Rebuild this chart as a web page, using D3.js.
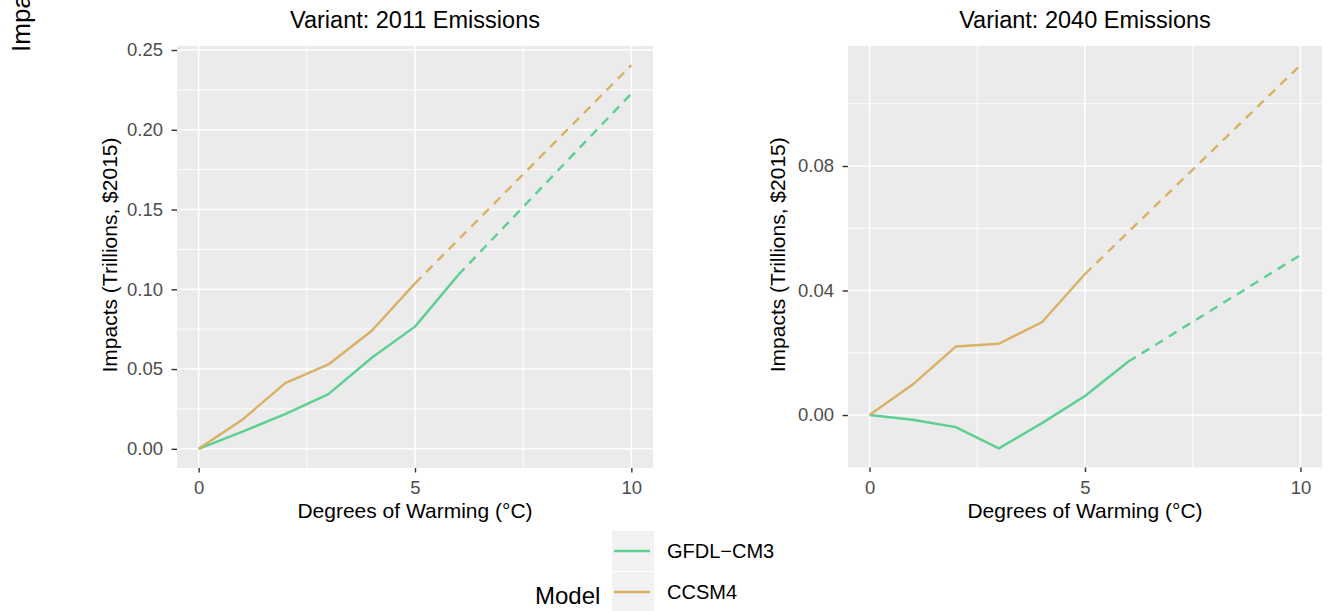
<!DOCTYPE html>
<html>
<head>
<meta charset="utf-8">
<script src="https://cdn.jsdelivr.net/npm/d3@7"></script>
<style>
  body { margin: 0; background: #fff; }
  text { font-family: "Liberation Sans", Arial, sans-serif; }
</style>
</head>
<body>
<div id="chart"></div>
<script>
// ---- data ----
const models = ["GFDL-CM3", "CCSM4"];
const modelLabels = ["GFDL\u2212CM3", "CCSM4"];
const variants = ["Variant: 2011 Emissions", "Variant: 2040 Emissions"];

const gfdlObsX = [0, 1, 2, 3, 4, 5, 6];
const ccsmObsX = [0, 1, 2, 3, 4, 5];
const gfdlProjX = [6, 10];
const ccsmProjX = [5, 10];

// 2011 emissions
const gfdl2011 = [0, 0.0106, 0.0218, 0.0343, 0.0571, 0.0766, 0.109];
const ccsm2011 = [0, 0.018, 0.0412, 0.0529, 0.074, 0.1037];
const gfdl2011Proj = [0.109, 0.2227];
const ccsm2011Proj = [0.1037, 0.2405];

// 2040 emissions
const gfdl2040 = [0, -0.0015, -0.0039, -0.0107, -0.0026, 0.0061, 0.0171];
const ccsm2040 = [0, 0.0098, 0.022, 0.0229, 0.0298, 0.0453];
const gfdl2040Proj = [0.0171, 0.0514];
const ccsm2040Proj = [0.0453, 0.1124];

const xTicks = [0, 5, 10];
const yTicks2011 = [0, 0.05, 0.10, 0.15, 0.20, 0.25];
const yTicks2040 = [0, 0.04, 0.08];

const colors = { "GFDL-CM3": "#5ccf92", "CCSM4": "#d8b163" };

// ---- layout ----
const W = 1327, H = 611;
const svg = d3.select("#chart").append("svg")
  .attr("width", W).attr("height", H);

const zip = (xs, ys) => xs.map((x, i) => [x, ys[i]]);

const panels = [
  { title: variants[0], left: 177, right: 653, top: 46, bottom: 468, yTicks: yTicks2011, yTitleX: 117,
    series: [
      { model: "GFDL-CM3", obs: zip(gfdlObsX, gfdl2011), proj: zip(gfdlProjX, gfdl2011Proj) },
      { model: "CCSM4", obs: zip(ccsmObsX, ccsm2011), proj: zip(ccsmProjX, ccsm2011Proj) }
    ] },
  { title: variants[1], left: 848, right: 1322, top: 46, bottom: 467.5, yTicks: yTicks2040, yTitleX: 785,
    series: [
      { model: "GFDL-CM3", obs: zip(gfdlObsX, gfdl2040), proj: zip(gfdlProjX, gfdl2040Proj) },
      { model: "CCSM4", obs: zip(ccsmObsX, ccsm2040), proj: zip(ccsmProjX, ccsm2040Proj) }
    ] }
];

// midpoints between majors, one step past each end (ggplot style minor breaks)
function minorBreaks(ticks) {
  const step = ticks[1] - ticks[0];
  const out = [];
  for (let i = -1; i < ticks.length; i++) out.push(ticks[0] + (i + 0.5) * step);
  return out;
}

panels.forEach(function(p) {
  // domain from data with 5% expansion
  const allPts = p.series.flatMap(s => s.obs.concat(s.proj));
  const xExt = d3.extent(allPts, d => d[0]);
  const yExt = d3.extent(allPts, d => d[1]);
  const xPad = (xExt[1] - xExt[0]) * 0.05, yPad = (yExt[1] - yExt[0]) * 0.05;

  const x = d3.scaleLinear().domain([xExt[0] - xPad, xExt[1] + xPad]).range([p.left, p.right]);
  const y = d3.scaleLinear().domain([yExt[0] - yPad, yExt[1] + yPad]).range([p.bottom, p.top]);

  const g = svg.append("g");

  // panel background
  g.append("rect")
    .attr("x", p.left).attr("y", p.top)
    .attr("width", p.right - p.left).attr("height", p.bottom - p.top)
    .attr("fill", "#ebebeb");

  // minor grid
  const yDom = y.domain(), xDom = x.domain();
  g.selectAll(".ymin").data(minorBreaks(p.yTicks).filter(v => v > yDom[0] && v < yDom[1]))
    .enter().append("line")
    .attr("x1", p.left).attr("x2", p.right)
    .attr("y1", d => y(d)).attr("y2", d => y(d))
    .attr("stroke", "#fff").attr("stroke-width", 0.9);
  g.selectAll(".xmin").data(minorBreaks(xTicks).filter(v => v > xDom[0] && v < xDom[1]))
    .enter().append("line")
    .attr("y1", p.top).attr("y2", p.bottom)
    .attr("x1", d => x(d)).attr("x2", d => x(d))
    .attr("stroke", "#fff").attr("stroke-width", 0.9);

  // major grid
  g.selectAll(".ymaj").data(p.yTicks).enter().append("line")
    .attr("x1", p.left).attr("x2", p.right)
    .attr("y1", d => y(d)).attr("y2", d => y(d))
    .attr("stroke", "#fff").attr("stroke-width", 1.5);
  g.selectAll(".xmaj").data(xTicks).enter().append("line")
    .attr("y1", p.top).attr("y2", p.bottom)
    .attr("x1", d => x(d)).attr("x2", d => x(d))
    .attr("stroke", "#fff").attr("stroke-width", 1.5);

  // lines: dashed projection under the solid observed part
  const line = d3.line().x(d => x(d[0])).y(d => y(d[1]));
  p.series.forEach(function(s) {
    g.append("path").datum(s.proj)
      .attr("d", line).attr("fill", "none")
      .attr("stroke", colors[s.model]).attr("stroke-width", 2.4)
      .attr("stroke-dasharray", "9,7");
    g.append("path").datum(s.obs)
      .attr("d", line).attr("fill", "none")
      .attr("stroke", colors[s.model]).attr("stroke-width", 2.4)
      .attr("stroke-linejoin", "round");
  });

  // axes
  const xAxis = g.append("g").attr("transform", "translate(0," + p.bottom + ")")
    .call(d3.axisBottom(x).tickValues(xTicks).tickSize(4.5).tickPadding(8.5).tickFormat(d3.format("d")));
  const yAxis = g.append("g").attr("transform", "translate(" + p.left + ",0)")
    .call(d3.axisLeft(y).tickValues(p.yTicks).tickSize(5.5).tickPadding(8.5).tickFormat(d3.format(".2f")));
  [xAxis, yAxis].forEach(function(a) {
    a.select(".domain").remove();
    a.selectAll(".tick line").attr("stroke", "#333333").attr("stroke-width", 1.4);
    a.selectAll(".tick text").attr("fill", "#4d4d4d")
      .style("font-size", "18.5px").style("font-family", "'Liberation Sans', Arial, sans-serif");
  });

  // titles
  const cx = (p.left + p.right) / 2;
  g.append("text").attr("x", cx).attr("y", 28)
    .attr("text-anchor", "middle").style("font-size", "23.5px").attr("fill", "#000")
    .text(p.title);
  g.append("text").attr("x", cx).attr("y", 518)
    .attr("text-anchor", "middle").style("font-size", "21px").attr("fill", "#000")
    .text("Degrees of Warming (\u00b0C)");
  g.append("text")
    .attr("transform", "translate(" + p.yTitleX + "," + ((p.top + p.bottom) / 2 - 2) + ") rotate(-90)")
    .attr("text-anchor", "middle").style("font-size", "21px").attr("fill", "#000")
    .text("Impacts (Trillions, $2015)");
});

// outer y label, cut off at the top edge as in the reference
svg.append("text")
  .attr("transform", "translate(30,52) rotate(-90)")
  .style("font-size", "26px").attr("fill", "#000")
  .text("Impacts (Trillions, $2015)");

// legend
const legend = svg.append("g");
legend.append("text").attr("x", 535).attr("y", 604)
  .style("font-size", "24px").attr("fill", "#000").text("Model");
models.forEach(function(m, i) {
  const ky = 531 + i * 41;
  legend.append("rect").attr("x", 612).attr("y", ky)
    .attr("width", 42).attr("height", 40).attr("fill", "#f2f2f2");
  legend.append("line")
    .attr("x1", 614).attr("x2", 650)
    .attr("y1", ky + 20).attr("y2", ky + 20)
    .attr("stroke", colors[m]).attr("stroke-width", 2.4);
  legend.append("text").attr("x", 667).attr("y", ky + 27)
    .style("font-size", "20px").attr("fill", "#000").text(modelLabels[i]);
});
</script>
</body>
</html>
